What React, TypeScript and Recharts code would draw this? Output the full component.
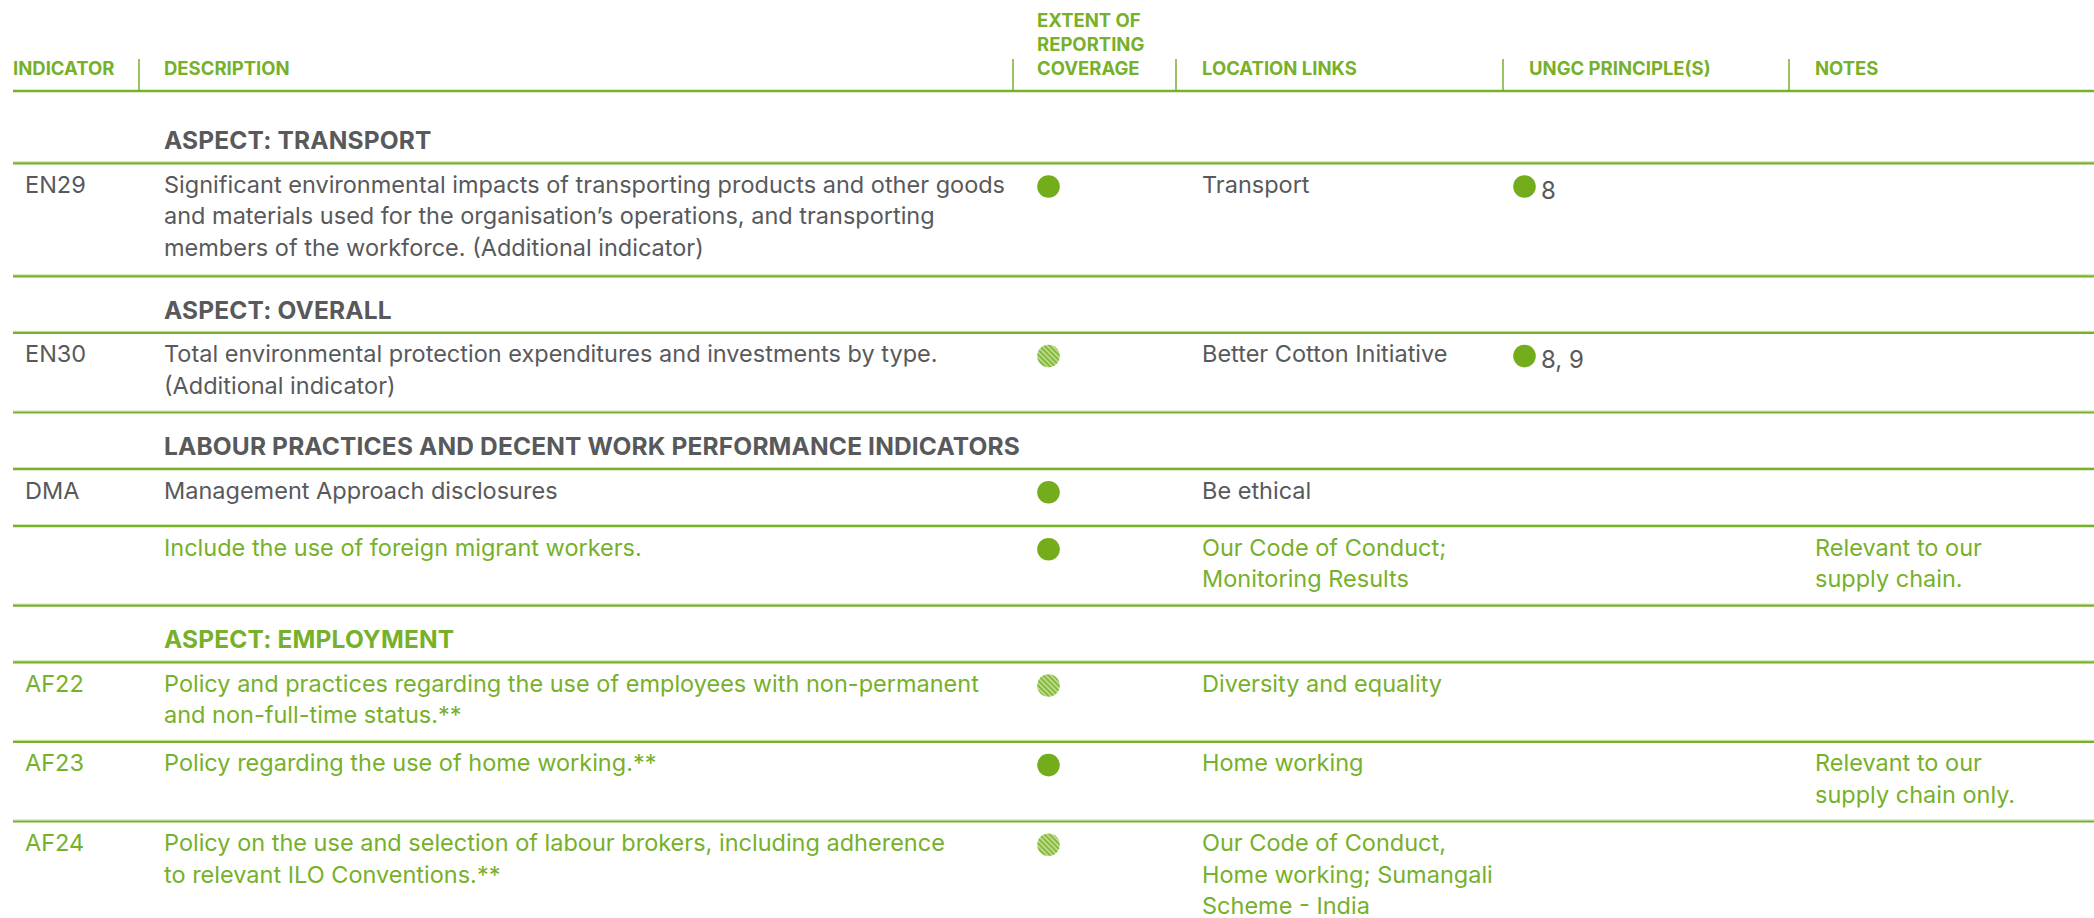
import { ScatterChart, Scatter, XAxis, YAxis, ReferenceLine } from 'recharts';

const W = 2094;
const H = 918;

// table content
const columnTitles = [
  ['INDICATOR'],
  ['DESCRIPTION'],
  ['EXTENT OF', 'REPORTING', 'COVERAGE'],
  ['LOCATION LINKS'],
  ['UNGC PRINCIPLE(S)'],
  ['NOTES'],
];

const rowTypes = ['aspect', 'item', 'aspect', 'item', 'aspect', 'item', 'item', 'aspect', 'item', 'item', 'item'];
const rowCodes = ['', 'EN29', '', 'EN30', '', 'DMA', '', '', 'AF22', 'AF23', 'AF24'];
const rowTexts = [
  ['ASPECT: TRANSPORT'],
  [
    'Significant environmental impacts of transporting products and other goods',
    'and materials used for the organisation\u2019s operations, and transporting',
    'members of the workforce. (Additional indicator)',
  ],
  ['ASPECT: OVERALL'],
  ['Total environmental protection expenditures and investments by type.', '(Additional indicator)'],
  ['LABOUR PRACTICES AND DECENT WORK PERFORMANCE INDICATORS'],
  ['Management Approach disclosures'],
  ['Include the use of foreign migrant workers.'],
  ['ASPECT: EMPLOYMENT'],
  ['Policy and practices regarding the use of employees with non-permanent', 'and non-full-time status.**'],
  ['Policy regarding the use of home working.**'],
  ['Policy on the use and selection of labour brokers, including adherence', 'to relevant ILO Conventions.**'],
];
const rowCoverage = ['', 'full', '', 'partial', '', 'full', 'full', '', 'partial', 'full', 'partial'];
const rowLocations = [
  [],
  ['Transport'],
  [],
  ['Better Cotton Initiative'],
  [],
  ['Be ethical'],
  ['Our Code of Conduct;', 'Monitoring Results'],
  [],
  ['Diversity and equality'],
  ['Home working'],
  ['Our Code of Conduct,', 'Home working; Sumangali', 'Scheme - India'],
];
const rowPrinciples = ['', '8', '', '8, 9', '', '', '', '', '', '', ''];
const rowNotes = [
  [],
  [],
  [],
  [],
  [],
  [],
  ['Relevant to our', 'supply chain.'],
  [],
  [],
  ['Relevant to our', 'supply chain only.'],
  [],
];
const rowGreen = [false, false, false, false, false, false, true, true, true, true, true];

// layout
const GREEN = '#77b02a';
const DOT = '#74ad1c';
const GRAY = '#58595b';
const FONT = 'Inter, "Noto Sans", sans-serif';
const headerX = [13, 164, 1037, 1202, 1529, 1815];
const separatorX = [139, 1013, 1176, 1503, 1789];
const HEADER_LINE = 91;
const CODE_X = 25;
const DESC_X = 164;
const COVER_X = 1048.5;
const LOC_X = 1202;
const UNGC_DOT_X = 1524.5;
const UNGC_TEXT_X = 1541;
const NOTES_X = 1815;
const LINE_GAP = 31.5;
const BODY_SIZE = 23.5;

const lineCount = (i: number) =>
  Math.max(rowTexts[i].length, rowLocations[i].length, rowNotes[i].length);

const rowTops: number[] = [];
{
  let y = HEADER_LINE + 15.7;
  rowTypes.forEach((t, i) => {
    rowTops.push(y);
    const n = lineCount(i);
    y += t === 'aspect' ? 56.6 : n === 1 ? 57 : n === 2 ? 79.6 : 113;
  });
}

type TextPoint = {
  x: number;
  y: number;
  text: string;
  color: string;
  size: number;
  weight: number;
  spacing: number;
};

const textPoints = (
  xs: number,
  lines: string[],
  baseline: number,
  color: string,
  size: number,
  weight: number,
  gap = LINE_GAP,
  spacing = 0
): TextPoint[] =>
  lines.map((text, k) => ({ x: xs, y: baseline + k * gap, text, color, size, weight, spacing }));

const headerPoints: TextPoint[] = columnTitles.flatMap((lines, c) =>
  textPoints(headerX[c], lines, 75 - (lines.length - 1) * 24, GREEN, 18.5, 700, 24)
);

const aspectPoints: TextPoint[] = [];
const bodyPoints: TextPoint[] = [];
const fullDots: { x: number; y: number }[] = [];
const partialDots: { x: number; y: number }[] = [];
const principleDots: { x: number; y: number }[] = [];

rowTypes.forEach((t, i) => {
  const top = rowTops[i];
  const color = rowGreen[i] ? GREEN : GRAY;
  if (t === 'aspect') {
    aspectPoints.push(...textPoints(DESC_X, rowTexts[i], top + 42.6, color, 24.5, 700, LINE_GAP, 0.15));
    return;
  }
  const base = top + 29.5;
  if (rowCodes[i]) bodyPoints.push(...textPoints(CODE_X, [rowCodes[i]], base, color, BODY_SIZE, 400));
  bodyPoints.push(...textPoints(DESC_X, rowTexts[i], base, color, BODY_SIZE, 400));
  bodyPoints.push(...textPoints(LOC_X, rowLocations[i], base, color, BODY_SIZE, 400));
  bodyPoints.push(...textPoints(NOTES_X, rowNotes[i], base, color, BODY_SIZE, 400));
  if (rowPrinciples[i]) {
    bodyPoints.push(...textPoints(UNGC_TEXT_X, [rowPrinciples[i]], base + 6, GRAY, 24, 400));
    principleDots.push({ x: UNGC_DOT_X, y: base - 6.3 });
  }
  if (rowCoverage[i] === 'full') fullDots.push({ x: COVER_X, y: base - 6.3 });
  if (rowCoverage[i] === 'partial') partialDots.push({ x: COVER_X, y: base - 6.3 });
});

const TextMark = (props: any) => {
  const { cx, cy, payload } = props;
  return (
    <text
      x={cx}
      y={cy}
      fill={payload.color}
      fontSize={payload.size}
      fontWeight={payload.weight}
      letterSpacing={payload.spacing}
      fontFamily={FONT}
    >
      {payload.text}
    </text>
  );
};

const FullDot = (props: any) => <circle cx={props.cx} cy={props.cy} r={11.3} fill={DOT} />;

const HatchDot = (props: any) => {
  const id = `hatch-${props.index}`;
  return (
    <g>
      <defs>
        <pattern id={id} patternUnits="userSpaceOnUse" width={3.6} height={3.6} patternTransform="rotate(-45)">
          <rect width={3.6} height={3.6} fill="#bcdb8c" />
          <rect width={1.8} height={3.6} fill="#84b83a" />
        </pattern>
      </defs>
      <circle cx={props.cx} cy={props.cy} r={11.3} fill={`url(#${id})`} />
    </g>
  );
};

export default function App() {
  return (
    <div style={{ position: 'absolute', left: 0, top: 0, width: W, height: H, background: '#fff' }}>
      <ScatterChart width={W} height={H} margin={{ top: 0, right: 0, bottom: 0, left: 0 }}>
        <XAxis type="number" dataKey="x" domain={[0, W]} hide allowDataOverflow />
        <YAxis type="number" dataKey="y" domain={[0, H]} reversed hide allowDataOverflow />

        {separatorX.map((x) => (
          <ReferenceLine
            key={`sep-${x}`}
            segment={[{ x, y: 59 }, { x, y: HEADER_LINE }]}
            stroke={GREEN}
            strokeWidth={1.5}
          />
        ))}
        <ReferenceLine segment={[{ x: 13, y: HEADER_LINE }, { x: W, y: HEADER_LINE }]} stroke={GREEN} strokeWidth={2.4} />
        {rowTops.slice(1).map((y) => (
          <ReferenceLine
            key={`hl-${y}`}
            segment={[{ x: 13, y: y - 1.6 }, { x: W, y: y - 1.6 }]}
            stroke="#cfe4ae"
            strokeWidth={1}
          />
        ))}
        {rowTops.slice(1).map((y) => (
          <ReferenceLine
            key={`row-${y}`}
            segment={[{ x: 13, y }, { x: W, y }]}
            stroke={GREEN}
            strokeWidth={2.2}
          />
        ))}

        <Scatter data={headerPoints} shape={TextMark} isAnimationActive={false} />
        <Scatter data={aspectPoints} shape={TextMark} isAnimationActive={false} />
        <Scatter data={bodyPoints} shape={TextMark} isAnimationActive={false} />
        <Scatter data={fullDots} shape={FullDot} isAnimationActive={false} />
        <Scatter data={partialDots} shape={HatchDot} isAnimationActive={false} />
        <Scatter data={principleDots} shape={FullDot} isAnimationActive={false} />
      </ScatterChart>
    </div>
  );
}
